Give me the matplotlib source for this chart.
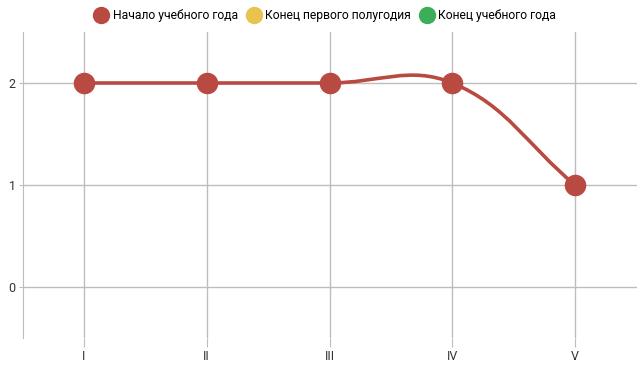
import matplotlib
matplotlib.use("Agg")
import matplotlib.pyplot as plt
import numpy as np
from matplotlib.lines import Line2D
from matplotlib.path import Path
from matplotlib.patches import PathPatch

categories = ["I", "II", "III", "IV", "V"]
series_names = ["Начало учебного года", "Конец первого полугодия", "Конец учебного года"]
start_values = [2, 2, 2, 2, 1]
colors = ["#b94a42", "#e8c34f", "#3cae57"]

plt.rcParams["font.family"] = ["Roboto", "DejaVu Sans"]

fig = plt.figure(figsize=(6.4, 3.7), dpi=100)
ax = fig.add_axes([22.5 / 640, 1 - 338 / 370, 614 / 640, 306 / 370])

x = np.arange(len(categories), dtype=float)
y = np.array(start_values, dtype=float)

ax.set_xlim(-0.5, len(categories) - 0.5)
ax.set_ylim(-0.5, 2.5)

# chart.js style spline (tension 0.4), computed in pixel space
sx, sy = 123.0, 102.5
px, py = x * sx, y * sy
n = len(px)
cp_prev = np.zeros((n, 2))
cp_next = np.zeros((n, 2))
t = 0.4
for i in range(n):
    a = max(i - 1, 0)
    b = min(i + 1, n - 1)
    d01 = np.hypot(px[i] - px[a], py[i] - py[a])
    d12 = np.hypot(px[b] - px[i], py[b] - py[i])
    s = d01 + d12
    s01 = d01 / s if s else 0
    s12 = d12 / s if s else 0
    fa, fb = t * s01, t * s12
    cp_prev[i] = (px[i] - fa * (px[b] - px[a]), py[i] - fa * (py[b] - py[a]))
    cp_next[i] = (px[i] + fb * (px[b] - px[a]), py[i] + fb * (py[b] - py[a]))

verts = [(px[0] / sx, py[0] / sy)]
codes = [Path.MOVETO]
for i in range(n - 1):
    verts += [(cp_next[i][0] / sx, cp_next[i][1] / sy),
              (cp_prev[i + 1][0] / sx, cp_prev[i + 1][1] / sy),
              (px[i + 1] / sx, py[i + 1] / sy)]
    codes += [Path.CURVE4] * 3
ax.add_patch(PathPatch(Path(verts, codes), fill=False, edgecolor=colors[0], lw=2.6,
                       zorder=3, capstyle="round", joinstyle="round"))
ax.plot(x, y, linestyle="none", marker="o", markersize=14.5, color=colors[0], zorder=4)

ax.set_xticks(x)
ax.set_xticklabels(categories)
ax.set_yticks([0, 1, 2])
ax.grid(True, color="#bdbdbd", linewidth=1)
ax.set_axisbelow(True)
ax.tick_params(axis="x", length=6.5, color="#bdbdbd", pad=2, labelsize=9, labelcolor="#333333")
ax.tick_params(axis="y", length=3, color="#bdbdbd", pad=2, labelsize=9, labelcolor="#333333")
for side in ["top", "right", "bottom"]:
    ax.spines[side].set_visible(False)
ax.spines["left"].set_color("#bdbdbd")

handles = [Line2D([], [], linestyle="none", marker="o", markersize=11.5, color=c) for c in colors]
fig.legend(handles, series_names, loc="center", bbox_to_anchor=(0.508, 1 - 15.5 / 370), ncol=3,
           frameon=False, fontsize=8.7, handletextpad=0.35, columnspacing=0.7,
           handlelength=1.2, borderpad=0)

fig.savefig("out.png", dpi=100)
